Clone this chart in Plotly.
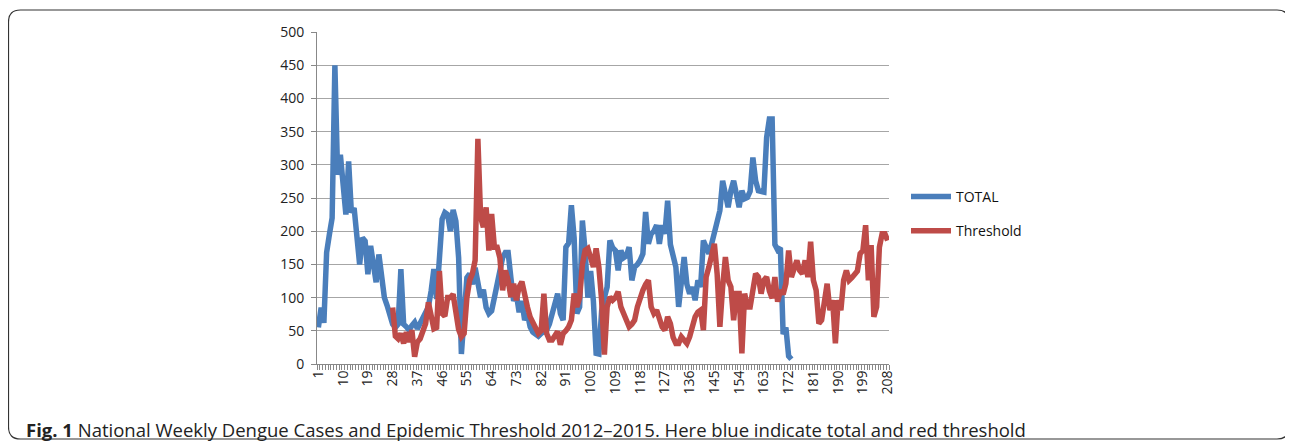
import plotly.graph_objects as go

# ---------------- data ----------------
total = [55, 85, 62, 168, 195, 220, 450, 285, 315, 272,
         225, 305, 228, 235, 200, 150, 190, 185, 135, 178,
         150, 123, 165, 138, 100, 88, 70, 60, 55, 60,
         143, 60, 56, 51, 58, 63, 53, 62, 71, 78,
         86, 110, 143, 98, 160, 218, 228, 225, 200, 232,
         215, 160, 15, 90, 130, 136, 120, 145, 122, 100,
         112, 85, 76, 80, 100, 120, 145, 160, 168, 168,
         130, 95, 105, 78, 95, 66, 76, 56, 48, 44,
         42, 46, 49, 51, 60, 76, 96, 106, 76, 66,
         176, 182, 239, 190, 76, 86, 216, 170, 100, 140,
         95, 16, 15, 80, 100, 116, 186, 175, 171, 141,
         171, 160, 163, 176, 126, 146, 150, 156, 166, 229,
         181, 196, 200, 209, 181, 209, 196, 246, 180, 166,
         146, 86, 116, 161, 120, 106, 116, 96, 126, 116,
         186, 176, 166, 181, 200, 216, 231, 276, 251, 236,
         261, 276, 256, 236, 261, 249, 251, 260, 311, 276,
         261, 259, 259, 341, 369, 369, 180, 172, 175, 45,
         55, 12, 7]

threshold_start_week = 28
threshold = [85, 42, 38, 46, 31, 48, 33, 51, 11, 33,
             38, 50, 61, 93, 70, 53, 55, 140, 76, 72,
             100, 100, 105, 76, 52, 41, 46, 100, 126, 136,
             156, 339, 221, 206, 236, 171, 226, 176, 176, 160,
             111, 141, 126, 101, 121, 96, 116, 124, 100, 86,
             71, 61, 51, 46, 50, 106, 46, 36, 36, 41,
             49, 29, 46, 50, 56, 66, 106, 86, 100, 150,
             171, 174, 160, 146, 174, 146, 96, 14, 86, 101,
             96, 100, 109, 86, 76, 65, 56, 60, 66, 86,
             100, 111, 120, 126, 86, 76, 81, 70, 56, 51,
             71, 61, 40, 31, 31, 41, 35, 31, 41, 56,
             71, 78, 81, 51, 131, 146, 160, 181, 136, 56,
             116, 161, 126, 116, 66, 106, 106, 16, 106, 86,
             86, 110, 136, 131, 106, 126, 131, 110, 99, 131,
             94, 111, 105, 121, 171, 131, 141, 156, 141, 136,
             156, 131, 184, 126, 111, 61, 66, 101, 121, 81,
             96, 31, 96, 81, 126, 141, 126, 130, 136, 140,
             166, 171, 209, 126, 179, 71, 86, 176, 196, 196,
             186]

n_weeks = 208
tick_weeks = list(range(1, n_weeks + 1, 9))
tick_labels = [str(w) for w in tick_weeks]
y_ticks = list(range(0, 501, 50))

total_weeks = list(range(1, len(total) + 1))
threshold_weeks = list(range(threshold_start_week, threshold_start_week + len(threshold)))

BLUE = "#4a7ebb"
RED = "#be4b48"
GRID = "#a6a6a6"
FONT = "Open Sans"

# ---------------- figure ----------------
# the page body has an 8px margin, so work in page pixels minus 8
OFF = 8
W, H = 1293 - OFF, 444 - OFF
L, R, T, B = 317 - OFF, 889 - OFF, 32 - OFF, 364 - OFF   # plot area in figure pixels

fig = go.Figure()
fig.add_trace(go.Scatter(x=total_weeks, y=total, mode="lines", name="TOTAL",
                         line=dict(color=BLUE, width=5.5), legendgroup="a"))
fig.add_trace(go.Scatter(x=threshold_weeks, y=threshold, mode="lines", name="Threshold",
                         line=dict(color=RED, width=5.5), legendgroup="b"))


def px(x):
    return (x - OFF - L) / (R - L)


def py(y):
    return (B - (y - OFF)) / (B - T)


# rounded border round the whole figure (page pixels)
bl, br, bt, bb = px(8.5), px(1289), py(10), py(439)
rx, ry = 12 / (R - L), 12 / (B - T)
path = (f"M {bl+rx},{bt} L {br-rx},{bt} Q {br},{bt} {br},{bt-ry} "
        f"L {br},{bb+ry} Q {br},{bb} {br-rx},{bb} "
        f"L {bl+rx},{bb} Q {bl},{bb} {bl},{bb+ry} "
        f"L {bl},{bt-ry} Q {bl},{bt} {bl+rx},{bt} Z")

fig.update_layout(
    width=W, height=H,
    margin=dict(l=L, r=W - R, t=T, b=H - B, pad=0),
    paper_bgcolor="white", plot_bgcolor="white",
    font=dict(family=FONT, size=14, color="#222"),
    showlegend=True,
    legend=dict(x=px(906), y=py(181), xanchor="left", yanchor="top",
                font=dict(family=FONT, size=14, color="#111"), itemwidth=40,
                tracegroupgap=13, bgcolor="rgba(0,0,0,0)"),
    xaxis=dict(range=[0.5, n_weeks + 0.5], tickmode="array", tickvals=tick_weeks,
               ticktext=tick_labels, tickangle=-90, showgrid=False, zeroline=False,
               showline=True, linecolor="#888", linewidth=1,
               ticks="", tickfont=dict(family=FONT, size=14, color="#222"),
               minor=dict(ticks="outside", tickmode="linear", tick0=0.5, dtick=1,
                          ticklen=5, tickcolor="#888", tickwidth=1, showgrid=False)),
    yaxis=dict(range=[0, 500], tickmode="array", tickvals=y_ticks,
               showgrid=True, gridcolor=GRID, gridwidth=1, zeroline=False,
               showline=True, linecolor="#888", linewidth=1,
               ticks="outside", ticklen=5, tickcolor="#888", ticklabelstandoff=4,
               tickfont=dict(family=FONT, size=14, color="#222")),
    shapes=[dict(type="path", path=path, xref="paper", yref="paper",
                 line=dict(color="#333", width=1.2), fillcolor="rgba(0,0,0,0)", layer="below")],
    annotations=[dict(text="<b>Fig. 1</b> National Weekly Dengue Cases and Epidemic Threshold 2012\u20132015. "
                           "Here blue indicate total and red threshold",
                      x=px(24), y=py(429), xref="paper", yref="paper",
                      xanchor="left", yanchor="middle", showarrow=False,
                      font=dict(family=FONT, size=18.5, color="#222"))],
)

fig.write_html("out.html")
